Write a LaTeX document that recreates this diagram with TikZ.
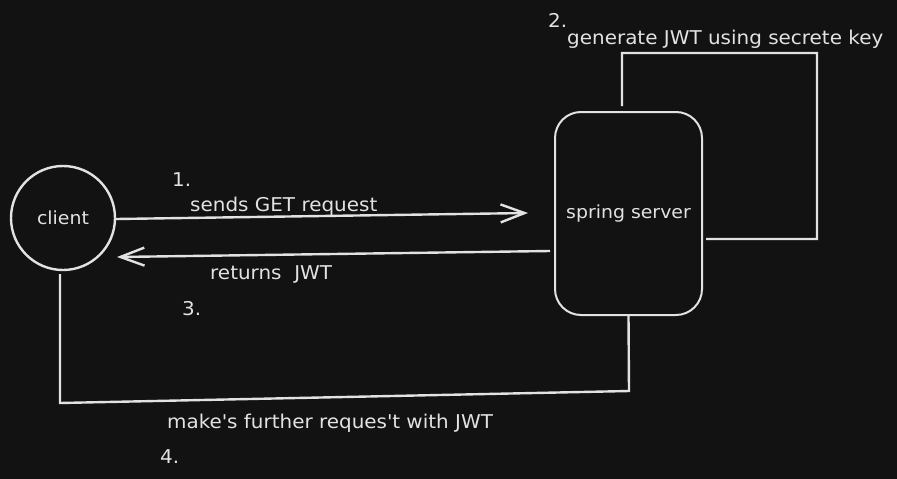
\documentclass[tikz,border=0pt]{standalone}
\usepackage{fontspec}
\setmainfont{DejaVu Sans}[FakeStretch=1.05]
\usepackage{xcolor}
\usetikzlibrary{arrows.meta,positioning}
\definecolor{board}{HTML}{121212}
\definecolor{chalk}{HTML}{E2E2E2}

\tikzset{
	actor/.style={circle,draw=chalk,line width=2.4bp,text=chalk,minimum size=104bp,font=\fontsize{18bp}{20bp}\selectfont},
	box/.style={rectangle,rounded corners=26bp,draw=chalk,line width=2bp,text=chalk,minimum width=147bp,minimum height=203bp,font=\fontsize{18bp}{20bp}\selectfont},
	note/.style={text=chalk,anchor=base west,inner sep=0pt,font=\fontsize{19bp}{21bp}\selectfont},
	link/.style={draw=chalk,line width=2.4bp},
}

\begin{document}
\begin{tikzpicture}[>={Straight Barb[length=24bp,width=18bp]}]
	\fill [board] (0bp,0bp) rectangle (897bp,-479bp);
	\useasboundingbox (0bp,0bp) rectangle (897bp,-479bp);

	\node (client) at (63bp,-218bp)    [actor] {client};
	\node (server) at (628.5bp,-213.5bp) [box]   {spring server};

	\coordinate (reqend)  at (528bp,-213bp);
	\coordinate (jwtbeg)  at (550bp,-251bp);
	\coordinate (jwtend)  at (117bp,-257bp);
	\coordinate (loopne)  at (817bp,-53bp);
	\coordinate (loopse)  at (817bp,-239bp);
	\coordinate (backse)  at (629bp,-391bp);
	\coordinate (backsw)  at (60bp,-403bp);

	% 1. request
	\draw [link,->] ([yshift=-1bp]client.east) -- (reqend);
	% 2. token loop
	\draw [link] ([xshift=-6.5bp,yshift=5bp]server.north) |- (loopne) -- (loopse) -- ([xshift=3bp,yshift=-25.5bp]server.east);
	% 3. response
	\draw [link,->] (jwtbeg) -- (jwtend);
	% 4. further requests
	\draw [link] (server.south) -- (backse) -- (backsw) -- ([xshift=-3bp,yshift=-3bp]client.south);

	\node (n1)    at (172bp,-186bp) [note] {1.};
	\node (send)  at (190bp,-211bp) [note] {sends GET request};
	\node (n2)    at (548bp,-27bp)  [note] {2.};
	\node (gen)   at (567bp,-44bp)  [note] {generate JWT using secrete key};
	\node (ret)   at (210bp,-279bp) [note] {returns\ \ JWT};
	\node (n3)    at (182bp,-315bp) [note] {3.};
	\node (more)  at (167bp,-428bp) [note] {make\textquotesingle s further reques\textquotesingle t with JWT};
	\node (n4)    at (160bp,-463bp) [note] {4.};
\end{tikzpicture}
\end{document}
